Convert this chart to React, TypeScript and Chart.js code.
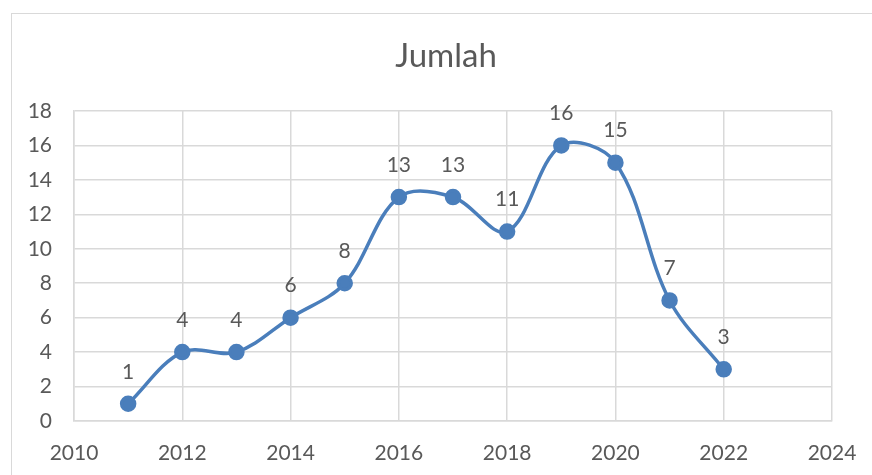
import React, { useEffect, useRef } from "react";
import { Chart, registerables } from "chart.js";

Chart.register(...registerables);

const years = [2011, 2012, 2013, 2014, 2015, 2016, 2017, 2018, 2019, 2020, 2021, 2022];
const jumlah = [1, 4, 4, 6, 8, 13, 13, 11, 16, 15, 7, 3];
const chartTitle = "Jumlah";
const xMin = 2010;
const xMax = 2024;
const yMin = 0;
const yMax = 18;

const FONT = "Lato, 'Open Sans', sans-serif";
const TEXT = "#595959";
const LINE = "#4A7EBB";

const dataLabelPlugin = {
  id: "dataLabels",
  afterDatasetsDraw(chart: any) {
    const ctx = chart.ctx;
    const meta = chart.getDatasetMeta(0);
    ctx.save();
    ctx.font = `21px ${FONT}`;
    ctx.fillStyle = TEXT;
    ctx.textAlign = "center";
    ctx.textBaseline = "middle";
    meta.data.forEach((pt: any, i: number) => {
      ctx.fillText(String(jumlah[i]), pt.x, pt.y - 32);
    });
    ctx.restore();
  },
};

const titlePlugin = {
  id: "centerTitle",
  afterDraw(chart: any) {
    const ctx = chart.ctx;
    ctx.save();
    ctx.font = `33px ${FONT}`;
    ctx.fillStyle = TEXT;
    ctx.textAlign = "center";
    ctx.textBaseline = "alphabetic";
    ctx.fillText(chartTitle, chart.width / 2 + 10, 67);
    ctx.restore();
  },
};

export default function App() {
  const ref = useRef<HTMLCanvasElement>(null);
  useEffect(() => {
    if (!ref.current) return;
    const chart = new Chart(ref.current, {
      type: "line",
      data: {
        datasets: [
          {
            label: chartTitle,
            data: years.map((y, i) => ({ x: y, y: jumlah[i] })),
            borderColor: LINE,
            backgroundColor: LINE,
            borderWidth: 3.5,
            pointRadius: 6.5,
            pointBackgroundColor: LINE,
            pointBorderColor: LINE,
            tension: 0.35,
            fill: false,
          },
        ],
      },
      options: {
        animation: false,
        responsive: false,
        layout: { padding: { left: 0, right: 40, top: 111, bottom: 0 } },
        plugins: {
          legend: { display: false },
          tooltip: { enabled: false },
          title: { display: false },
        },
        scales: {
          x: {
            type: "linear",
            min: xMin,
            max: xMax,
            ticks: {
              stepSize: 2,
              color: TEXT,
              font: { family: FONT, size: 21 },
              padding: 20,
              callback: (v: any) => String(v),
            },
            grid: { color: "#d9d9d9", lineWidth: 1.5, drawTicks: false },
            border: { color: "#d9d9d9", width: 1.5 },
            afterFit: (s: any) => {
              s.height = 54;
              s.paddingLeft = 0;
              s.paddingRight = 0;
            },
          },
          y: {
            min: yMin,
            max: yMax,
            ticks: {
              stepSize: 2,
              color: TEXT,
              font: { family: FONT, size: 21 },
              padding: 22,
            },
            grid: { color: "#d9d9d9", lineWidth: 1.5, drawTicks: false },
            border: { color: "#d9d9d9", width: 1.5 },
            afterFit: (s: any) => {
              s.width = 74;
            },
          },
        },
      },
      plugins: [dataLabelPlugin, titlePlugin],
    });
    return () => chart.destroy();
  }, []);

  return (
    <div style={{ position: "fixed", left: 0, top: 0, width: 872, height: 475, background: "#fff", overflow: "hidden" }}>
      <div
        style={{
          position: "absolute",
          left: 11,
          top: 13,
          width: 880,
          height: 500,
          border: "1.5px solid #d9d9d9",
          boxSizing: "border-box",
        }}
      />
      <canvas ref={ref} width={872} height={475} style={{ position: "absolute", left: 0, top: 0 }} />
    </div>
  );
}
